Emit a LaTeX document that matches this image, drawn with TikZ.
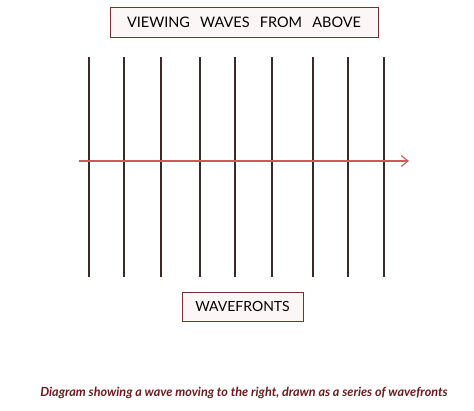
\documentclass[tikz,border=0pt]{standalone}
\usepackage{fontspec}
\setmainfont{Lato}
\usetikzlibrary{arrows.meta}
\definecolor{boxred}{HTML}{7A2E30}
\definecolor{boxfill}{HTML}{FCF6F6}
\definecolor{arrowred}{HTML}{D0585A}
\definecolor{frontgray}{HTML}{3A2A2A}
\definecolor{captionred}{HTML}{6E1A1E}
\tikzset{
  labelbox/.style={draw=boxred, fill=boxfill, line width=0.9pt, inner sep=0pt},
  front/.style={draw=frontgray, line width=1.2pt},
}
\begin{document}
\begin{tikzpicture}[x=1pt, y=-1pt]
      \useasboundingbox (0,0) rectangle (474,410);
      \node[labelbox, minimum width=268pt, minimum height=30pt] (title) at (244,22) [font=\fontsize{14.5}{18}\selectfont] {VIEWING\hspace{0.7em}WAVES\hspace{0.7em}FROM\hspace{0.7em}ABOVE};
      \node[labelbox, minimum width=121pt, minimum height=29pt] (fronts) at (242.5,306.5) [font=\fontsize{14}{16}\selectfont] {WAVEFRONTS};
      \node (caption) at (244,393) [font=\fontsize{12.6}{14}\selectfont\bfseries\itshape, text=captionred] {Diagram showing a wave moving to the right, drawn as a series of wavefronts};
      \foreach \n/\xpos in {1/89, 2/124, 3/161, 4/200, 5/235, 6/272, 7/313, 8/348, 9/384}
        {
        \coordinate (t\n) at (\xpos,57);
        \coordinate (b\n) at (\xpos,277);
        \draw[front] (t\n) -- (b\n);
        }
      \coordinate (start) at (79,161);
      \coordinate (end) at (409,161);
      \draw[arrowred, line width=1.1pt, -{Straight Barb[length=7pt, width=11pt]}] (start) -- (end);
    \end{tikzpicture}
\end{document}
